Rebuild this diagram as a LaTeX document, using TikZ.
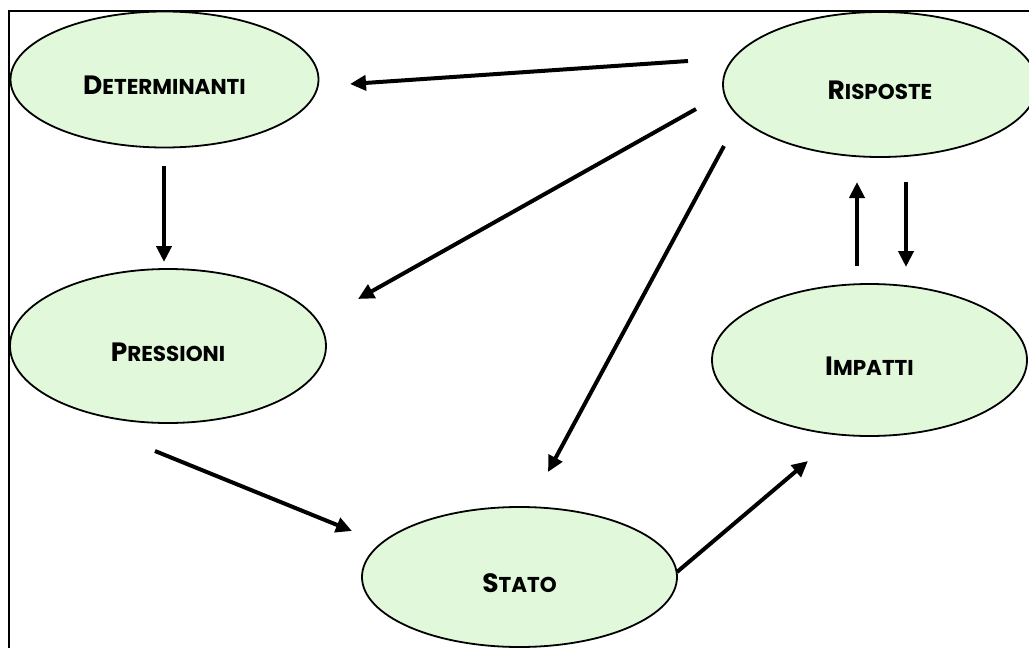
\documentclass[tikz,border=0pt]{standalone}
\usepackage{fontspec}
\setmainfont{Poppins}
\usetikzlibrary{shapes.geometric,arrows.meta}
\definecolor{leaf}{RGB}{225,249,218}
% word in small capitals, set a little below the centre of its ellipse
\newcommand\capsword[2]{\raisebox{-6pt}[\height][\depth]{{\fontsize{26.5}{26}\selectfont #1}{\fontsize{21.5}{22}\selectfont #2}}}
\tikzset{
  phase/.style={ellipse, draw=black, line width=1.8pt, fill=leaf,
    inner sep=0pt, font=\bfseries},
  flow/.style={line width=4pt, -{Triangle[length=16pt,width=15pt]}},
}
\begin{document}
\begin{tikzpicture}[x=1pt,y=-1pt]
\useasboundingbox (0,0) rectangle (1029,648);
\clip (0,0) rectangle (1029,648);
% outer frame (right and bottom sides run off the page)
\draw[line width=1.6pt] (9,11) rectangle (1060,680);

% the five phases
\node[phase, minimum width=308pt, minimum height=136pt] (D) at (164.5,79.5)
  {\capsword{D}{ETERMINANTI}};
\node[phase, minimum width=314pt, minimum height=145pt] (R) at (880,84.5)
  {\capsword{R}{ISPOSTE}};
\node[phase, minimum width=316pt, minimum height=154pt] (P) at (168,346)
  {\capsword{P}{RESSIONI}};
\node[phase, minimum width=315pt, minimum height=140pt] (S) at (519.5,577)
  {\capsword{S}{TATO}};
\node[phase, minimum width=315pt, minimum height=152pt] (I) at (869.5,360)
  {\capsword{I}{MPATTI}};

% free end points of the arrows
\coordinate (rd0) at (688,61);   \coordinate (rd1) at (350,84);
\coordinate (dp0) at (164,166);  \coordinate (dp1) at (164,262);
\coordinate (rp0) at (696,109);  \coordinate (rp1) at (358,299);
\coordinate (rs0) at (724,146);  \coordinate (rs1) at (548,472);
\coordinate (ps0) at (155,451);  \coordinate (ps1) at (352,531);
\coordinate (si0) at (677,572);  \coordinate (si1) at (808,461);
\coordinate (ir0) at (857,266);  \coordinate (ir1) at (857,182);
\coordinate (ri0) at (906,182);  \coordinate (ri1) at (906,267);

% arrows
\draw[flow] (rd0) -- (rd1);
\draw[flow] (dp0) -- (dp1);
\draw[flow] (rp0) -- (rp1);
\draw[flow] (rs0) -- (rs1);
\draw[flow] (ps0) -- (ps1);
\draw[flow] (si0) -- (si1);
\draw[flow] (ir0) -- (ir1);
\draw[flow] (ri0) -- (ri1);
\end{tikzpicture}
\end{document}
